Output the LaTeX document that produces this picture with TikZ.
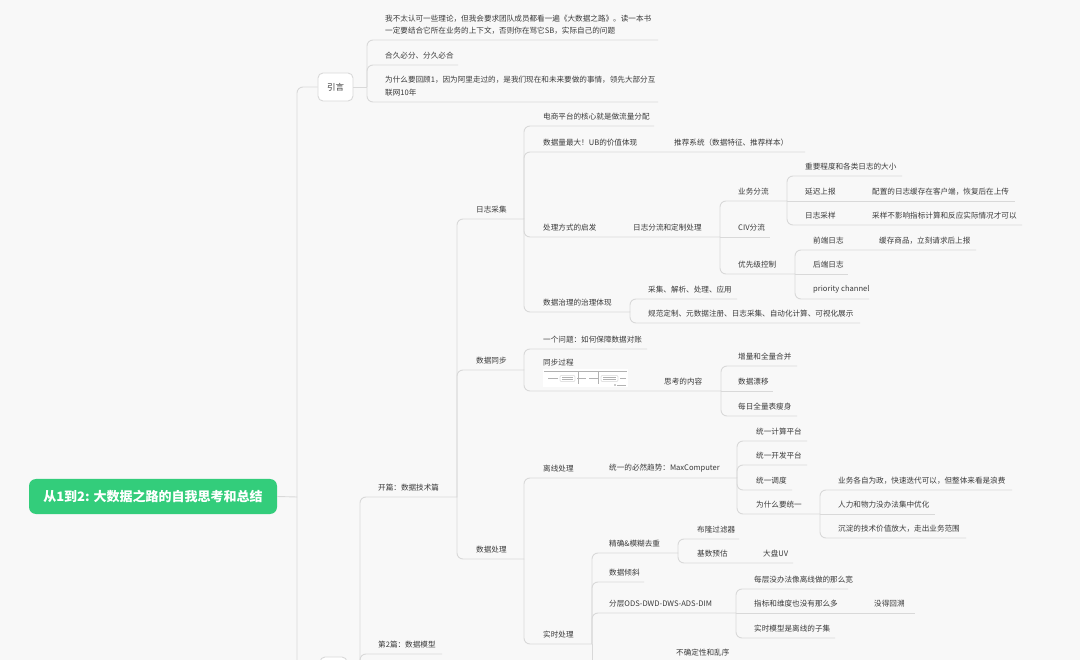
\documentclass[tikz,border=0pt]{standalone}
\usepackage{fontspec}
\setmainfont{Noto Sans CJK SC}
\definecolor{bg}{HTML}{F8F8F8}
\definecolor{lc}{HTML}{D9D9D9}
\definecolor{txt}{HTML}{3A3A3A}
\definecolor{grn}{HTML}{33CD7B}
\newcommand\lfnode[4]{\node[lbl] (#1) at (#2,#3-9.5) {#4};}
\begin{document}
\begin{tikzpicture}[x=1pt,y=-1pt,
  lbl/.style={anchor=west,inner sep=0pt,font=\fontsize{7.6}{12.5}\selectfont,text=txt},
  conn/.style={draw=lc,line width=0.9pt},
  brc/.style={conn,rounded corners=6pt},
  topbox/.style={draw=lc,line width=0.9pt,fill=white,rounded corners=5pt,minimum width=35pt,minimum height=28pt,inner sep=0pt,text=txt,font=\fontsize{8.5}{10}\selectfont},
  rootbox/.style={fill=grn,rounded corners=7pt,minimum width=248pt,minimum height=35pt,inner sep=0pt,text=white,font=\fontsize{13}{15}\selectfont\bfseries},
  thumbln/.style={draw=black!30,line width=0.25pt}]
\fill[bg] (0,0) rectangle (1080,660);
\useasboundingbox (0,0) rectangle (1080,660);
\clip (0,0) rectangle (1080,660);

% ---------- main boxes ----------
\node[rootbox] (root) at (153,496.5) {从1到2: 大数据之路的自我思考和总结};
\node[topbox] (intro) at (335.5,87) {引言};
\node[topbox,minimum width=27pt] (part) at (333.5,671) {};

% ---------- connectors: root level ----------
\draw[conn] (root.east) -- (297,497);
\draw[brc] (297,497) |- (intro.west);
\draw[brc] (297,497) |- (part.west);

% ---------- 引言 ----------
\draw[conn] (intro.east) -- (367,87);
\draw[brc] (367,87) |- (658,40);
\draw[brc] (367,87) |- (458,65);
\draw[brc] (367,87) |- (658,102);
\node[lbl,align=left] (i1) at (385,24.5) {我不太认可一些理论，但我会要求团队成员都看一遍《大数据之路》。读一本书\\一定要结合它所在业务的上下文，否则你在骂它SB，实际自己的问题};
\lfnode{i2}{385}{65}{合久必分、分久必合}
\node[lbl,align=left] (i3) at (385,86) {为什么要回顾1，因为阿里走过的，是我们现在和未来要做的事情，领先大部分互\\联网10年};

% ---------- part box ----------
\draw[conn] (part.east) -- (360,671);
\draw[brc] (360,671) |- (457,497);
\draw[brc] (360,671) |- (442,654);
\lfnode{p1}{378}{497}{开篇：数据技术篇}
\lfnode{p2}{378}{654}{第2篇：数据模型}

% ---------- 开篇 ----------
\draw[brc] (457,497) |- (524,219);
\draw[brc] (457,497) |- (524,370);
\draw[brc] (457,497) |- (524,559);
\lfnode{a1}{476}{219}{日志采集}
\lfnode{a2}{476}{370}{数据同步}
\lfnode{a3}{476}{559}{数据处理}

% ---------- 日志采集 ----------
\draw[brc] (524,219) |- (654,126);
\draw[brc] (524,219) |- (805,152);
\draw[brc] (524,219) |- (720,237);
\draw[brc] (524,219) |- (630,312);
\lfnode{b1}{543}{126}{电商平台的核心就是做流量分配}
\lfnode{b2}{543}{152}{数据量最大！UB的价值体现}
\lfnode{b2a}{674}{152}{推荐系统（数据特征、推荐样本）}
\lfnode{b3}{543}{237}{处理方式的启发}
\lfnode{b3a}{633}{237}{日志分流和定制处理}
\lfnode{b4}{543}{312}{数据治理的治理体现}

\draw[brc] (630,312) |- (737,299);
\draw[brc] (630,312) |- (860,323);
\lfnode{g1}{648}{299}{采集、解析、处理、应用}
\lfnode{g2}{648}{323}{规范定制、元数据注册、日志采集、自动化计算、可视化展示}

% 日志分流和定制处理
\draw[brc] (720,237) |- (787,201);
\draw[conn] (720,237) -- (770,237);
\draw[brc] (720,237) |- (795,274);
\lfnode{c1}{738}{201}{业务分流}
\lfnode{c2}{738}{237}{CIV分流}
\lfnode{c3}{738}{274}{优先级控制}

% 业务分流
\draw[brc] (787,201) |- (902,176);
\draw[conn] (787,201) -- (1015,201);
\draw[brc] (787,201) |- (1022,225);
\lfnode{d1}{805}{176}{重要程度和各类日志的大小}
\lfnode{d2}{805}{201}{延迟上报}
\lfnode{d2a}{872}{201}{配置的日志缓存在客户端，恢复后在上传}
\lfnode{d3}{805}{225}{日志采样}
\lfnode{d3a}{872}{225}{采样不影响指标计算和反应实际情况才可以}

% 优先级控制
\draw[brc] (795,274) |- (976,250);
\draw[conn] (795,274) -- (848,274);
\draw[brc] (795,274) |- (869,299);
\lfnode{e1}{813}{250}{前端日志}
\lfnode{e1a}{879}{250}{缓存商品，立刻请求后上报}
\lfnode{e2}{813}{274}{后端日志}
\lfnode{e3}{813}{299}{priority channel}

% ---------- 数据同步 ----------
\draw[brc] (524,370) |- (647,349);
\draw[brc] (524,370) |- (721,391);
\lfnode{s1}{543}{349}{一个问题：如何保障数据对账}
\node[lbl] (s2) at (543,363) {同步过程};
\lfnode{s2a}{664}{391}{思考的内容}
% thumbnail picture under 同步过程
\node[fill=white,inner sep=0pt,minimum width=85pt,minimum height=18pt,anchor=north west] (thumb) at (543,369) {};
\draw[thumbln] (544,371) -- (627,371);
\draw[thumbln] (548,378.5) -- (558,378.5);
\draw[thumbln,rounded corners=1pt] (560,375.5) rectangle (575,381.5);
\draw[thumbln] (562,377.5) -- (573,377.5) (562,379.5) -- (573,379.5);
\draw[thumbln] (577,378.5) -- (586,378.5) (589,378.5) -- (598,378.5);
\draw[thumbln] (578,372) -- (578,384) (598,372) -- (598,384);
\draw[thumbln,rounded corners=1pt] (601,375.5) rectangle (618,381.5);
\draw[thumbln] (603,377.5) -- (616,377.5) (603,379.5) -- (616,379.5);
\draw[thumbln] (620,378.5) -- (626,378.5);
\fill[black!40] (615,385) circle (0.9pt);
\draw[thumbln] (617,385) -- (626,385);

\draw[brc] (721,391) |- (797,366);
\draw[conn] (721,391) -- (773,391);
\draw[brc] (721,391) |- (797,416);
\lfnode{t1}{738}{366}{增量和全量合并}
\lfnode{t2}{738}{391}{数据漂移}
\lfnode{t3}{738}{416}{每日全量表瘦身}

% ---------- 数据处理 ----------
\draw[brc] (524,559) |- (737,478);
\draw[brc] (524,559) |- (592,644);
\lfnode{h1}{543}{478}{离线处理}
\lfnode{h1a}{609}{478}{统一的必然趋势：MaxComputer}
\lfnode{h2}{543}{644}{实时处理}

\draw[brc] (737,478) |- (807,441);
\draw[brc] (737,478) |- (807,465);
\draw[brc] (737,478) |- (792,490);
\draw[brc] (737,478) |- (820,514);
\lfnode{u1}{756}{441}{统一计算平台}
\lfnode{u2}{756}{465}{统一开发平台}
\lfnode{u3}{756}{490}{统一调度}
\lfnode{u4}{756}{514}{为什么要统一}

\draw[brc] (820,514) |- (1012,490);
\draw[conn] (820,514) -- (935,514);
\draw[brc] (820,514) |- (966,538);
\lfnode{w1}{838}{490}{业务各自为政，快速迭代可以，但整体来看是浪费}
\lfnode{w2}{838}{514}{人力和物力没办法集中优化}
\lfnode{w3}{838}{538}{沉淀的技术价值放大，走出业务范围}

% 实时处理
\draw[brc] (592,644) |- (678,553);
\draw[brc] (592,644) |- (644,582);
\draw[brc] (592,644) |- (736,613);
\draw[conn] (592,644) -- (592,670);
\lfnode{r1}{609}{553}{精确\&模糊去重}
\lfnode{r2}{609}{582}{数据倾斜}
\lfnode{r3}{609}{613}{分层ODS-DWD-DWS-ADS-DIM}
\lfnode{r4}{676}{662}{不确定性和乱序}

\draw[brc] (678,553) |- (739,539);
\draw[brc] (678,553) |- (793,563);
\lfnode{x1}{697}{539}{布隆过滤器}
\lfnode{x2}{697}{563}{基数预估}
\lfnode{x2a}{763}{563}{大盘UV}

\draw[brc] (736,613) |- (848,589);
\draw[conn] (736,613) -- (915,613);
\draw[brc] (736,613) |- (835,638);
\lfnode{y1}{754}{589}{每层没办法像离线做的那么宽}
\lfnode{y2}{754}{613}{指标和维度也没有那么多}
\lfnode{y2a}{874}{613}{没得回溯}
\lfnode{y3}{754}{638}{实时模型是离线的子集}
\end{tikzpicture}
\end{document}
